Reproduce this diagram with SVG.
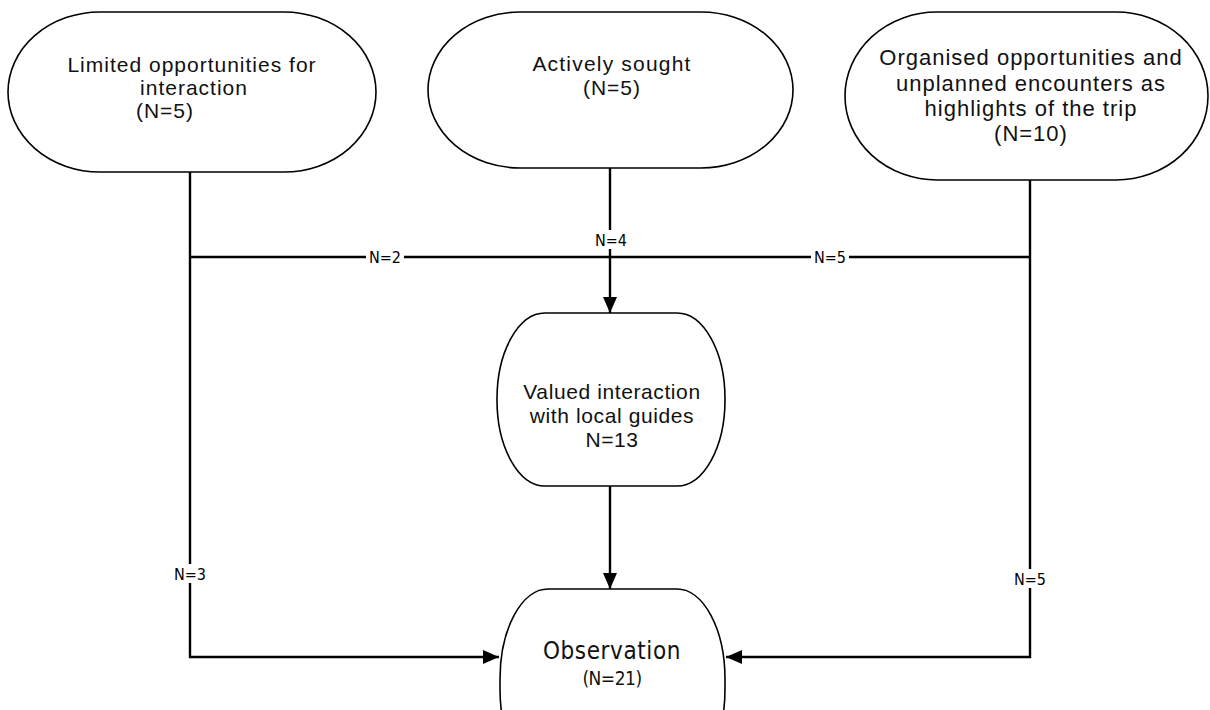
<svg xmlns="http://www.w3.org/2000/svg" width="1210" height="710" viewBox="0 0 1210 710">
  <style>
    .shape { fill: #ffffff; stroke: #000000; stroke-width: 1.6; }
    .label { font-family: "Liberation Sans", Arial, sans-serif; font-size: 21px; letter-spacing: 1px; fill: #111111; text-anchor: middle; }
    .wire { fill: none; stroke: #000000; stroke-width: 2.4; }
    .count { font-family: "DejaVu Sans Condensed", "Liberation Sans", sans-serif; font-size: 16px; fill: #000000; text-anchor: middle; }
    .countbg { fill: #ffffff; }
    .narrow { font-family: "DejaVu Sans Condensed", "Liberation Sans", sans-serif; }
    .wide { font-size: 22px; letter-spacing: 1px; }
  </style>
  <defs>
    <marker id="arrow" viewBox="0 0 16 14" refX="16" refY="7" markerWidth="16" markerHeight="14" markerUnits="userSpaceOnUse" orient="auto">
      <path d="M0,0 L16,7 L0,14 Z" fill="#000000"/>
    </marker>
  </defs>

  <rect width="1210" height="710" fill="#ffffff"/>

  <!-- connectors -->
  <g id="connectors">
    <line class="wire" x1="190" y1="257" x2="1030" y2="257"/>
    <path class="wire" d="M190,172 L190,657 L499,657" marker-end="url(#arrow)"/>
    <path class="wire" d="M1030,180 L1030,657 L726,657" marker-end="url(#arrow)"/>
    <path class="wire" d="M610,168 L610,313" marker-end="url(#arrow)"/>
    <path class="wire" d="M610,486 L610,589" marker-end="url(#arrow)"/>

    <rect class="countbg" x="366" y="248" width="38" height="18"/>
    <text class="count" x="385" y="263">N=2</text>
    <rect class="countbg" x="811" y="248" width="38" height="18"/>
    <text class="count" x="830" y="263">N=5</text>
    <rect class="countbg" x="591" y="230" width="38" height="19"/>
    <text class="count" x="611" y="246">N=4</text>
    <rect class="countbg" x="171" y="564" width="38" height="19"/>
    <text class="count" x="190" y="580">N=3</text>
    <rect class="countbg" x="1011" y="569" width="38" height="19"/>
    <text class="count" x="1030" y="585">N=5</text>
  </g>

  <!-- source nodes -->
  <g id="limited">
    <rect class="shape" x="8" y="12" width="368" height="160" rx="92" ry="80"/>
    <text class="label" x="192" y="72">Limited opportunities for</text>
    <text class="label" x="194" y="95">interaction</text>
    <text class="label" x="165" y="118">(N=5)</text>
  </g>

  <g id="sought">
    <rect class="shape" x="428" y="12" width="365" height="156" rx="92" ry="78"/>
    <text class="label" x="612" y="71" style="letter-spacing: 1.2px;">Actively sought</text>
    <text class="label" x="612" y="95">(N=5)</text>
  </g>

  <g id="organised">
    <rect class="shape" x="845" y="12" width="363" height="168" rx="92" ry="84"/>
    <text class="label wide" x="1031" y="65">Organised opportunities and</text>
    <text class="label wide" x="1031" y="91">unplanned encounters as</text>
    <text class="label wide" x="1031" y="116">highlights of the trip</text>
    <text class="label wide" x="1031" y="141">(N=10)</text>
  </g>

  <!-- intermediate node -->
  <g id="guides">
    <rect class="shape" x="497" y="313" width="228" height="173" rx="48" ry="86"/>
    <text class="label" x="612" y="399" style="letter-spacing: 0.6px;">Valued interaction</text>
    <text class="label" x="612" y="423" style="letter-spacing: 0.6px;">with local guides</text>
    <text class="label" x="612" y="447" style="letter-spacing: 0.6px;">N=13</text>
  </g>

  <!-- outcome node -->
  <g id="observation">
    <rect class="shape" x="500" y="589" width="225" height="190" rx="48" ry="90"/>
    <text class="label narrow" x="612" y="659" style="font-size: 24px; letter-spacing: 0.6px;">Observation</text>
    <text class="label narrow" x="612" y="685" style="font-size: 19px; letter-spacing: -0.5px;">(N=21)</text>
  </g>
</svg>
